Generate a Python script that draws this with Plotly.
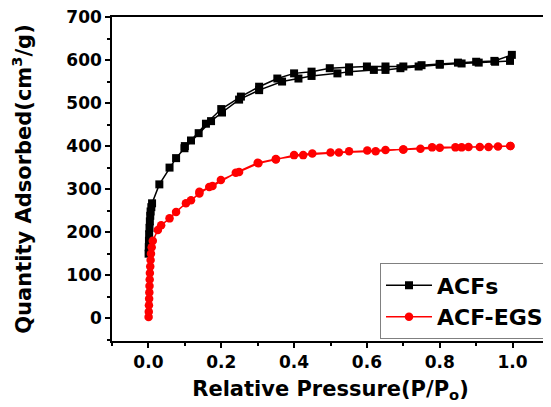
import plotly.graph_objects as go

# ACFs isotherm (adsorption then desorption branch)
acf_ads_p = [0.0005, 0.001, 0.0015, 0.002, 0.003, 0.004, 0.005, 0.006, 0.008, 0.01, 0.03, 0.058, 0.076,
             0.099, 0.138, 0.172, 0.202, 0.249, 0.304, 0.367, 0.412, 0.448, 0.519, 0.551, 0.619, 0.651,
             0.692, 0.742, 0.80, 0.86, 0.907, 0.952, 0.993]
acf_ads_v = [150, 165, 180, 195, 210, 225, 238, 248, 258, 267, 311, 350, 372,
             395, 430, 458, 478, 508, 530, 550, 557, 563, 569, 573, 577, 577,
             581, 585, 589, 592, 594, 596, 598]
acf_des_p = [0.998, 0.95, 0.9, 0.85, 0.8, 0.75, 0.70, 0.651, 0.60, 0.551, 0.498, 0.448, 0.40,
             0.354, 0.304, 0.254, 0.20, 0.158, 0.117, 0.10]
acf_des_v = [612, 598, 596, 594, 591, 588, 585, 585, 585, 583, 581, 573, 569,
             557, 538, 515, 486, 452, 413, 400]

# ACF-EGS isotherm
egs_ads_p = [0.0005, 0.001, 0.0015, 0.002, 0.0025, 0.003, 0.0035, 0.004, 0.005, 0.006, 0.007, 0.009,
             0.012, 0.026, 0.035, 0.058, 0.076, 0.103, 0.117, 0.14, 0.167, 0.199, 0.249, 0.302, 0.35,
             0.40, 0.45, 0.50, 0.551, 0.601, 0.651, 0.70, 0.747, 0.80, 0.843, 0.879, 0.934, 0.994]
egs_ads_v = [3, 15, 30, 45, 60, 75, 90, 105, 120, 135, 150, 165,
             180, 205, 216, 232, 247, 267, 274, 290, 305, 321, 340, 360, 369,
             379, 383, 385, 388, 390, 391, 392, 394, 396, 397, 398, 398, 400]
egs_des_p = [0.994, 0.96, 0.91, 0.86, 0.779, 0.70, 0.624, 0.523, 0.425, 0.35, 0.30, 0.24, 0.176, 0.14]
egs_des_v = [400, 399, 398, 397, 397, 392, 388, 385, 379, 370, 361, 338, 307, 294]

x_ticks = [0.0, 0.2, 0.4, 0.6, 0.8, 1.0]
x_ticklabels = ["0.0", "0.2", "0.4", "0.6", "0.8", "1.0"]
y_ticks = [0, 100, 200, 300, 400, 500, 600, 700]

FONT = "DejaVu Sans, Arial, sans-serif"

fig = go.Figure()
fig.add_trace(go.Scatter(
    x=acf_ads_p + acf_des_p, y=acf_ads_v + acf_des_v, name="ACFs",
    mode="lines+markers",
    line=dict(color="black", width=1.5),
    marker=dict(symbol="square", size=8, color="black"),
))
fig.add_trace(go.Scatter(
    x=egs_ads_p + egs_des_p, y=egs_ads_v + egs_des_v, name="ACF-EGS",
    mode="lines+markers",
    line=dict(color="red", width=1.5),
    marker=dict(symbol="circle", size=8.5, color="red"),
))

axis_common = dict(
    showline=True, linecolor="black", linewidth=1.5, mirror=True,
    ticks="outside", ticklen=5, tickwidth=1.5, tickcolor="black",
    showgrid=False, zeroline=False, automargin=False,
    ticklabeloverflow="allow",
    tickfont=dict(family=FONT, size=17, color="black", weight="bold"),
)

fig.update_xaxes(
    range=[-0.1, 1.1], tickvals=x_ticks, ticktext=x_ticklabels,
    minor=dict(ticks="outside", ticklen=3, tickwidth=1.5, tickcolor="black", dtick=0.1, tick0=0),
    title=dict(text="Relative Pressure(P/P<sub>o</sub>)",
               font=dict(family=FONT, size=21, color="black", weight="bold"), standoff=10),
    **axis_common,
)
fig.update_yaxes(
    range=[-53, 700], tickvals=y_ticks,
    minor=dict(ticks="outside", ticklen=3, tickwidth=1.5, tickcolor="black", dtick=50, tick0=0),
    title=dict(text="Quantity Adsorbed(cm<sup>3</sup>/g)",
               font=dict(family=FONT, size=21, color="black", weight="bold"), standoff=32),
    **axis_common,
)

# the page body adds an 8px offset, so the figure is sized/margined to compensate
fig.update_layout(
    width=543, height=399,
    margin=dict(l=104, r=2, t=9, b=66),
    paper_bgcolor="white", plot_bgcolor="white",
    showlegend=True,
    legend=dict(
        x=1.0, xanchor="right", y=0.005, yanchor="bottom",
        bordercolor="#808080", borderwidth=1, bgcolor="white",
        font=dict(family=FONT, size=22, color="black", weight="bold"),
        itemwidth=46, tracegroupgap=0,
    ),
)

fig.write_html("out.html")
